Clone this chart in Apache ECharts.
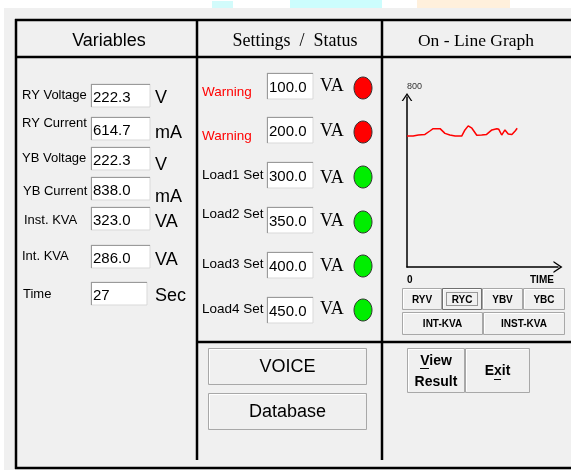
<!DOCTYPE html>
<html>
<head>
<meta charset="utf-8">
<script src="https://cdn.jsdelivr.net/npm/echarts@6/dist/echarts.min.js"></script>
<style>
  html, body { margin: 0; padding: 0; background: #fff; overflow: hidden; }
  #main { width: 571px; height: 471px; }
</style>
</head>
<body>
<div id="main"></div>
<script>
// ---- values ----
var varLabels = ['RY Voltage', 'RY Current', 'YB Voltage', 'YB Current', 'Inst. KVA', 'Int. KVA', 'Time'];
var varValues = ['222.3', '614.7', '222.3', '838.0', '323.0', '286.0', '27'];
var varUnits  = ['V', 'mA', 'V', 'mA', 'VA', 'VA', 'Sec'];

var setLabels = ['Warning', 'Warning', 'Load1 Set', 'Load2 Set', 'Load3 Set', 'Load4 Set'];
var setValues = ['100.0', '200.0', '300.0', '350.0', '400.0', '450.0'];
var setStatus = ['alarm', 'alarm', 'ok', 'ok', 'ok', 'ok'];

var graphButtons  = ['RYV', 'RYC', 'YBV', 'YBC'];
var graphButtons2 = ['INT-KVA', 'INST-KVA'];
var selectedButton = 'RYC';
var mainButtons = ['VOICE', 'Database'];
var navButtons  = ['View\nResult', 'Exit'];

// on-line graph: RY current against time (sec)
var timeSec   = [0, 1.5, 2.8, 4.4, 5.6, 6.4, 8.1, 9.3, 10.5, 11.8, 13.4, 14.2, 15.0, 15.9, 17.1, 18.3, 19.5, 20.8, 22.0, 22.5, 23.2, 24.0, 24.8, 25.7, 26.5, 27];
var ryCurrent = [616, 616, 621, 624, 640, 651, 651, 629, 621, 616, 616, 645, 664, 653, 620, 621, 624, 645, 651, 648, 621, 645, 626, 623, 640, 653];
var yTicks = [0, 800];
var xMax = 37;

// ---- layout ----
var varLabelX = [22, 22, 22, 23, 24, 22, 23];
var varLabelY = [95, 123, 158, 191, 220, 256, 294];
var varBoxY   = [84, 117, 147, 177, 207, 245, 282];
var varBoxW   = [59, 59, 59, 59, 59, 59, 56];
var varUnitY  = [98, 133, 165, 197, 222, 260, 296];

var setLabelY = [92, 136, 175, 214, 264, 309];
var setBoxY   = [73, 117, 162, 207, 252, 297];
var setUnitY  = [86, 131, 178, 221, 266, 309];
var setLampY  = [88, 132, 177, 222, 266, 310];

var SANS = '"Liberation Sans", Arial, sans-serif';
var SERIF = '"Liberation Serif", serif';

var els = [];
function rect(x, y, w, h, style, z) {
  els.push({ type: 'rect', silent: true, z: z || 10, shape: { x: x, y: y, width: w, height: h }, style: style });
}
function line(x1, y1, x2, y2, color, w, dash) {
  els.push({ type: 'line', silent: true, z: 12, shape: { x1: x1, y1: y1, x2: x2, y2: y2 },
    style: { stroke: color, lineWidth: w, lineDash: dash || null } });
}
function text(x, y, str, font, align, color, lh) {
  els.push({ type: 'text', silent: true, z: 14, x: x, y: y,
    style: { text: str, font: font, fill: color || '#000', align: align || 'left', verticalAlign: 'middle',
      textAlign: align || 'left', textVerticalAlign: 'middle', lineHeight: lh || 22 } });
}
function editBox(x, y, w, h, val, font) {
  rect(x, y, w, h, { fill: '#fff', stroke: '#d9d9d9', lineWidth: 1 });
  line(x, y + 0.5, x + w, y + 0.5, '#9a9a9a', 1);
  line(x + 0.5, y, x + 0.5, y + h, '#9a9a9a', 1);
  text(x + 2, y + h / 2 + 2, val, font);
}
function button(x, y, w, h, label, font, pressed, lh) {
  rect(x + 0.5, y + 0.5, w - 1, h - 1, { fill: '#f0f0f0', stroke: pressed ? '#707070' : '#a8a8a8', lineWidth: 1 });
  line(x + 1.5, y + 1.5, x + w - 2, y + 1.5, '#ffffff', 1);
  line(x + 1.5, y + 1.5, x + 1.5, y + h - 2, '#ffffff', 1);
  if (pressed) {
    rect(x + 4.5, y + 4.5, w - 9, h - 9, { fill: 'none', stroke: '#404040', lineWidth: 1, lineDash: [1, 1] }, 13);
  }
  text(x + w / 2, y + h / 2 + 1, label, font, 'center', '#000', lh);
}

// page frame
rect(0, 0, 571, 8, { fill: '#fff' }, 1);
rect(212, 1, 21, 7, { fill: '#d2fbfb' }, 2);
rect(290, 0, 92, 8, { fill: '#ccfdfd' }, 2);
rect(417, 0, 93, 8, { fill: '#fff0dc' }, 2);
rect(0, 0, 4, 471, { fill: '#fff' }, 1);
rect(0, 470, 571, 1, { fill: '#fff' }, 1);
line(15, 20, 571, 20, '#000', 2.5);
line(15, 57, 571, 57, '#000', 2.5);
line(16, 19, 16, 469, '#000', 2.5);
line(197, 20, 197, 460, '#000', 2.5);
line(382, 20, 382, 460, '#000', 2.5);
line(197, 342, 571, 342, '#000', 2.5);
line(15, 468, 571, 468, '#000', 2.5);

// headers
text(109, 41, 'Variables', '18px ' + SANS, 'center');
text(295, 41, 'Settings  /  Status', '18px ' + SERIF, 'center');
text(476, 41, 'On - Line Graph', '17.5px ' + SERIF, 'center');

// variables column
varLabels.forEach(function (lab, i) {
  text(varLabelX[i], varLabelY[i], lab, '13px ' + SANS);
  editBox(91, varBoxY[i], varBoxW[i], 23, varValues[i], '15px ' + SANS);
  text(155, varUnitY[i], varUnits[i], '18px ' + SANS);
});

// settings / status column
setLabels.forEach(function (lab, i) {
  text(202, setLabelY[i], lab, '13.5px ' + SANS, 'left', setStatus[i] === 'alarm' ? '#ff0000' : '#000');
  editBox(267, setBoxY[i], 46, 26, setValues[i], '15px ' + SANS);
  text(320, setUnitY[i], 'VA', '18px ' + SERIF);
  els.push({ type: 'ellipse', silent: true, z: 12,
    shape: { cx: 363, cy: setLampY[i], rx: 9, ry: 11 },
    style: { fill: setStatus[i] === 'alarm' ? '#ff0000' : '#00ee00', stroke: '#333', lineWidth: 1 } });
});

// graph selector buttons
var gbX = [402, 442, 482, 523, 565];
graphButtons.forEach(function (lab, i) {
  button(gbX[i], 288, gbX[i + 1] - gbX[i], 22, lab, 'bold 10px ' + SANS, lab === selectedButton);
});
var gb2X = [402, 483, 565];
graphButtons2.forEach(function (lab, i) {
  button(gb2X[i], 312, gb2X[i + 1] - gb2X[i], 23, lab, 'bold 10px ' + SANS, false);
});

// bottom buttons
mainButtons.forEach(function (lab, i) {
  button(208, 348 + i * 45, 159, 37, lab, '18px ' + SANS, false);
});
button(407, 348, 58, 45, navButtons[0], 'bold 14px ' + SANS, false, 21);
button(465, 348, 65, 45, navButtons[1], 'bold 14px ' + SANS, false);
line(420, 368.5, 429, 368.5, '#000', 1);
line(494, 379.5, 501, 379.5, '#000', 1);

var CHEVRON = 'path://M0,9 L6,0 L12,9 L10.4,9 L6,2.4 L1.6,9 Z';
var pairs = timeSec.map(function (t, i) { return [t, ryCurrent[i]]; });

var chart = echarts.init(document.getElementById('main'));
chart.setOption({
  backgroundColor: '#f0f0f0',
  animation: false,
  grid: { left: 407, top: 97, width: 151, height: 170, containLabel: false },
  xAxis: {
    type: 'value', min: 0, max: xMax, interval: xMax,
    axisLine: { show: true, lineStyle: { color: '#000', width: 1.5 }, symbol: ['none', CHEVRON], symbolSize: [14, 9] },
    axisTick: { show: false }, splitLine: { show: false },
    axisLabel: { formatter: function (v) { return v === 0 ? String(yTicks[0]) : ''; },
      color: '#000', fontFamily: SANS, fontWeight: 'bold', fontSize: 10, margin: 8, align: 'left' },
    name: 'TIME', nameLocation: 'end', nameGap: -28,
    nameTextStyle: { color: '#000', fontFamily: SANS, fontWeight: 'bold', fontSize: 10, align: 'left', verticalAlign: 'top', padding: [8, 0, 0, 0] }
  },
  yAxis: {
    type: 'value', min: 0, max: yTicks[1], interval: yTicks[1],
    axisLine: { show: true, onZero: false, lineStyle: { color: '#000', width: 1.5 }, symbol: ['none', CHEVRON], symbolSize: [13, 8] },
    axisTick: { show: false }, splitLine: { show: false }, axisLabel: { show: false },
    name: String(yTicks[1]), nameLocation: 'end', nameGap: 6,
    nameTextStyle: { color: '#333', fontFamily: SANS, fontSize: 9, align: 'left', verticalAlign: 'bottom' }
  },
  series: [{
    type: 'line', data: pairs, showSymbol: false, silent: true,
    lineStyle: { color: '#ff0000', width: 1.5 }
  }],
  graphic: { elements: els }
});
</script>
</body>
</html>
